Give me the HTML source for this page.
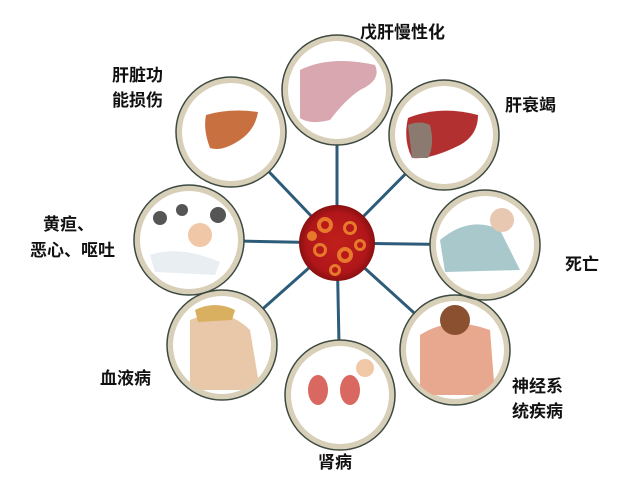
<!DOCTYPE html>
<html><head><meta charset="utf-8"><style>
html,body{margin:0;padding:0;background:#fff;}
body{width:632px;height:477px;position:relative;overflow:hidden;font-family:"Liberation Sans","Noto Sans CJK SC",sans-serif;}
svg{position:absolute;left:0;top:0;}
.t{position:absolute;font-size:17px;color:#111;line-height:25px;font-weight:bold;}
</style></head><body>
<svg width="632" height="477" viewBox="0 0 632 477">
<defs>
<radialGradient id="v" cx="50%" cy="50%" r="50%">
<stop offset="0" stop-color="#c0201a"/><stop offset="0.8" stop-color="#b0161a"/><stop offset="1" stop-color="#8a1010"/>
</radialGradient>
<clipPath id="c1"><circle cx="189" cy="240" r="50"/></clipPath>
<clipPath id="c2"><circle cx="485" cy="245" r="50"/></clipPath>
<clipPath id="c3"><circle cx="222" cy="345" r="50"/></clipPath>
<clipPath id="c4"><circle cx="455" cy="350" r="50"/></clipPath>
</defs>
<g stroke="#2d5c7a" stroke-width="3">
<line x1="337" y1="243" x2="337" y2="90"/>
<line x1="337" y1="243" x2="231" y2="132"/>
<line x1="337" y1="243" x2="444" y2="135"/>
<line x1="337" y1="243" x2="189" y2="240"/>
<line x1="337" y1="243" x2="485" y2="245"/>
<line x1="337" y1="243" x2="222" y2="345"/>
<line x1="337" y1="243" x2="455" y2="350"/>
<line x1="337" y1="243" x2="340" y2="395"/>
</g>
<g fill="#fff" stroke="#d8cfb8" stroke-width="6">
<circle cx="337" cy="90" r="52"/>
<circle cx="231" cy="132" r="52"/>
<circle cx="444" cy="135" r="52"/>
<circle cx="189" cy="240" r="52"/>
<circle cx="485" cy="245" r="52"/>
<circle cx="222" cy="345" r="52"/>
<circle cx="455" cy="350" r="52"/>
<circle cx="340" cy="395" r="52"/>
</g>
<g fill="none" stroke="#3d4a40" stroke-width="1.5">
<circle cx="337" cy="90" r="55"/>
<circle cx="231" cy="132" r="55"/>
<circle cx="444" cy="135" r="55"/>
<circle cx="189" cy="240" r="55"/>
<circle cx="485" cy="245" r="55"/>
<circle cx="222" cy="345" r="55"/>
<circle cx="455" cy="350" r="55"/>
<circle cx="340" cy="395" r="55"/>
</g>
<path d="M300 70 Q330 55 375 65 Q382 80 360 90 Q345 100 330 120 Q310 125 300 118 Z" fill="#d9a7b0"/>
<path d="M206 115 Q230 108 258 112 Q255 130 240 140 Q222 152 210 148 Q203 130 206 115 Z" fill="#c97040"/>
<path d="M408 118 Q440 105 478 115 Q478 135 460 145 Q430 160 412 158 Q403 140 408 118 Z" fill="#b33030"/>
<path d="M408 125 Q420 120 430 125 Q435 145 428 158 L412 158 Z" fill="#8a7a70"/>
<g clip-path="url(#c1)"><circle cx="200" cy="235" r="12" fill="#f0c8a8"/><path d="M150 255 Q180 245 220 262 L215 275 L155 272 Z" fill="#e8eef2"/>
<circle cx="160" cy="218" r="7" fill="#555"/><circle cx="182" cy="210" r="6" fill="#555"/><circle cx="218" cy="215" r="8" fill="#555"/></g>
<g clip-path="url(#c2)"><path d="M440 240 Q470 215 500 230 L520 270 L445 272 Z" fill="#a8c8cc"/><circle cx="502" cy="220" r="12" fill="#e8c8b0"/></g>
<g clip-path="url(#c3)"><path d="M190 320 Q225 305 250 330 L260 390 L190 390 Z" fill="#e8c8a8"/><path d="M195 310 Q215 300 235 310 L232 320 L198 322 Z" fill="#d8b060"/></g>
<g clip-path="url(#c4)"><path d="M420 335 Q450 315 490 330 L495 395 L420 395 Z" fill="#e8a890"/><circle cx="455" cy="320" r="15" fill="#8a5030"/></g>
<ellipse cx="318" cy="390" rx="10" ry="15" fill="#d86860"/><ellipse cx="350" cy="390" rx="10" ry="15" fill="#d86860"/><circle cx="365" cy="368" r="9" fill="#f0c8a8"/>
<circle cx="337" cy="243" r="38" fill="url(#v)"/>
<g fill="#f08a30" opacity="0.85">
<circle cx="325" cy="225" r="8"/><circle cx="350" cy="228" r="7"/><circle cx="320" cy="250" r="7"/><circle cx="345" cy="255" r="8"/><circle cx="335" cy="270" r="6"/><circle cx="360" cy="245" r="6"/><circle cx="312" cy="236" r="5"/>
</g>
<g fill="#b81818">
<circle cx="325" cy="225" r="4"/><circle cx="350" cy="228" r="4"/><circle cx="320" cy="250" r="4"/><circle cx="345" cy="255" r="4"/><circle cx="335" cy="270" r="3"/><circle cx="360" cy="245" r="3"/>
</g>
</svg>
<div class="t" style="left:360px;top:20px;">戊肝慢性化</div>
<div class="t" style="left:112px;top:63px;">肝脏功<br>能损伤</div>
<div class="t" style="left:505px;top:93px;">肝衰竭</div>
<div class="t" style="left:43px;top:212px;">黄疸、</div>
<div class="t" style="left:30px;top:238px;">恶心、呕吐</div>
<div class="t" style="left:565px;top:252px;">死亡</div>
<div class="t" style="left:100px;top:366px;">血液病</div>
<div class="t" style="left:512px;top:374px;">神经系<br>统疾病</div>
<div class="t" style="left:318px;top:450px;">肾病</div>
</body></html>
